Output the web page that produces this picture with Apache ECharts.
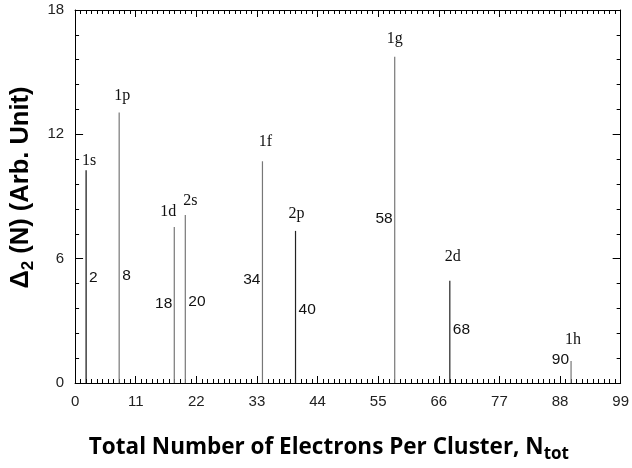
<!DOCTYPE html>
<html><head><meta charset="utf-8">
<script src="https://cdn.jsdelivr.net/npm/echarts@6/dist/echarts.min.js"></script>
<style>html,body{margin:0;padding:0;background:#fff}#c{width:632px;height:468px}</style>
</head><body><div id="c"></div>
<script>
// ---- data ----
var electrons = [2, 8, 18, 20, 34, 40, 58, 68, 90];
var delta2 = [10.27, 13.05, 7.53, 8.11, 10.7, 7.34, 15.75, 4.94, 1.06];
var shells = ['1s', '1p', '1d', '2s', '1f', '2p', '1g', '2d', '1h'];
// annotation height of the number labels (in axis units)
var numLabelY = [5.09, 5.18, 3.84, 3.94, 4.99, 3.55, 7.92, 2.59, 1.10];
var xTicks = [0, 11, 22, 33, 44, 55, 66, 77, 88, 99];
var yTicks = [0, 6, 12, 18];

// ---- layout / style (not data) ----
var numLabelSide = ['right','right','left','right','left','right','left','right','left'];
var shellDx = [3, 3, -6, 5, 3, 1, 0, 3, 2];
var shellDy = [-9, -17, -15, -14, -19, -17, -18, -24, -21];
var stickColors = ['#111','#777','#777','#777','#777','#222','#777','#222','#777'];

var rows = electrons.map(function (n, i) { return [n, delta2[i], numLabelY[i], i]; });

var chart = echarts.init(document.getElementById('c'), null, {renderer: 'canvas'});
var tickLbl = {color: '#222', fontSize: 15, fontFamily: 'Liberation Sans, Arial, sans-serif'};
function xAx(pos, showLbl) {
  return {
    type: 'value', position: pos, min: xTicks[0], max: xTicks[xTicks.length - 1], interval: xTicks[1] - xTicks[0],
    axisLine: {show: true, onZero: false, lineStyle: {color: '#000', width: 1}},
    axisTick: {show: true, inside: true, length: 7, lineStyle: {color: '#000'}},
    minorTick: {show: true, splitNumber: 11, length: 4, lineStyle: {color: '#000'}},
    splitLine: {show: false},
    axisLabel: Object.assign({show: showLbl, margin: 11}, tickLbl)
  };
}
function yAx(pos, showLbl) {
  return {
    type: 'value', position: pos, min: yTicks[0], max: yTicks[yTicks.length - 1], interval: yTicks[1] - yTicks[0],
    axisLine: {show: true, onZero: false, lineStyle: {color: '#000', width: 1}},
    axisTick: {show: true, inside: true, length: 8, lineStyle: {color: '#000'}},
    minorTick: {show: true, splitNumber: 5, length: 4, lineStyle: {color: '#000'}},
    splitLine: {show: false},
    axisLabel: Object.assign({show: showLbl, margin: 11}, tickLbl)
  };
}
var xa = xAx('bottom', true), xt = xAx('top', false);
xa.name = '{b|Total Number of Electrons Per Cluster, N}{s|tot}';
xa.nameLocation = 'middle';
xa.nameGap = 50;
xa.nameTextStyle = {padding: [0, 38, 0, 0], rich: {
  b: {fontSize: 22.5, fontWeight: 'bold', fontFamily: 'Open Sans, sans-serif', color: '#000'},
  s: {fontSize: 17, fontWeight: 'bold', fontFamily: 'Open Sans, sans-serif', color: '#000', padding: [13, 0, 0, 0]}
}};
var ya = yAx('left', true), yr = yAx('right', false);
ya.name = '{d|Δ}{s|2}{d| (N) (Arb. Unit)}';
ya.nameLocation = 'middle';
ya.nameGap = 38;
ya.nameTextStyle = {padding: [0, 0, 0, 18], rich: {
  d: {fontSize: 25.5, fontWeight: 'bold', fontFamily: 'Liberation Sans, Arial, sans-serif', color: '#000'},
  s: {fontSize: 17, fontWeight: 'bold', fontFamily: 'Liberation Sans, Arial, sans-serif', color: '#000', padding: [14, 0, 0, 0]}
}};

chart.setOption({
  animation: false,
  backgroundColor: '#fff',
  grid: {left: 74, right: 6, top: 10, bottom: 83, containLabel: false},
  xAxis: [xa, xt],
  yAxis: [ya, yr],
  series: [{
    type: 'custom',
    xAxisIndex: 0, yAxisIndex: 0,
    data: rows,
    clip: false,
    renderItem: function (params, api) {
      var i = api.value(3);
      var base = api.coord([api.value(0), 0]);
      var top = api.coord([api.value(0), api.value(1)]);
      var lab = api.coord([api.value(0), api.value(2)]);
      var side = numLabelSide[i];
      return {
        type: 'group',
        children: [
          {type: 'line', shape: {x1: base[0], y1: base[1], x2: top[0], y2: top[1]},
           style: {stroke: stickColors[i], lineWidth: 1.2}},
          {type: 'text', x: top[0] + shellDx[i], y: top[1] + shellDy[i],
           style: {text: shells[i], align: 'center', verticalAlign: 'middle',
                   font: '16px "Liberation Serif", "Times New Roman", serif', fill: '#111'}},
          {type: 'text', x: lab[0] + (side === 'right' ? 3 : -2), y: lab[1],
           style: {text: String(electrons[i]), align: side === 'right' ? 'left' : 'right', verticalAlign: 'middle',
                   font: '15.5px "Liberation Sans", Arial, sans-serif', fill: '#111'}}
        ]
      };
    }
  }]
});
</script>
</body></html>
